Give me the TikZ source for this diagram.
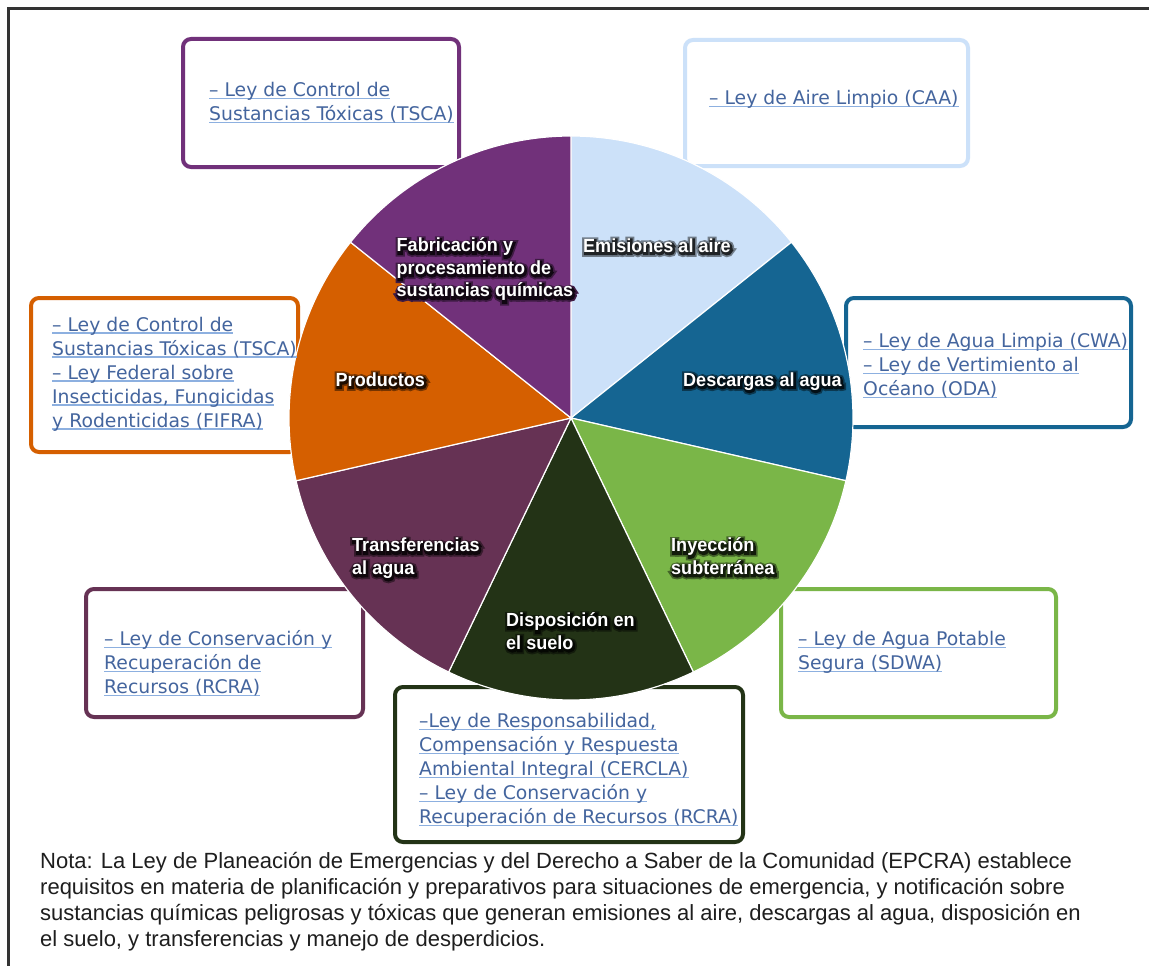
\documentclass[tikz,border=0pt]{standalone}
\usepackage{fontspec}
\setmainfont{DejaVu Sans}
\newfontfamily\notefont{Liberation Sans}
\newfontfamily\labfont{Liberation Sans}[FakeStretch=0.95]
\newfontfamily\glowA{Liberation Sans Bold}[FakeStretch=0.95, FakeBold=34]
\newfontfamily\glowB{Liberation Sans Bold}[FakeStretch=0.95, FakeBold=16]
\usetikzlibrary{calc}
\definecolor{cEm}{HTML}{CCE1F9}
\definecolor{cDe}{HTML}{156592}
\definecolor{cIn}{HTML}{7AB648}
\definecolor{cDi}{HTML}{233316}
\definecolor{cTr}{HTML}{663254}
\definecolor{cPr}{HTML}{D55F00}
\definecolor{cFa}{HTML}{71317A}
\definecolor{lnkc}{HTML}{44659E}
\definecolor{ulc}{HTML}{8DB0E0}
\definecolor{notec}{HTML}{1E1E1E}
\newcommand\lnk[1]{\setbox0=\hbox{#1}\rlap{\color{ulc}\rule[-2.6pt]{\wd0}{1.3pt}}\box0}
\tikzset{
  lawbox/.style={line width=4pt, rounded corners=8pt, fill=white},
  boxtext/.style={inner sep=0pt, anchor=north west, align=left, text=lnkc,
    font=\fontsize{18.8}{24}\selectfont},
  labtext/.style={inner sep=0pt, anchor=north west, align=left,
    font=\labfont\bfseries\fontsize{19}{22.5}\selectfont},
  glowouter/.style={labtext, font=\glowA\fontsize{19}{22.5}\selectfont},
  glowinner/.style={labtext, font=\glowB\fontsize{19}{22.5}\selectfont},
  notetext/.style={inner sep=0pt, anchor=north west, align=left, text=notec,
    font=\notefont\fontsize{22}{26}\selectfont},
  slice/.style={draw=white, line width=1.2pt}
}
\newcommand\glowlab[4]{%
  \node[glowouter, text=black!45!#4] (#1-o) at ($(#2)+(1,1.5)$) {#3};
  \node[glowinner, text=black!85!#4] (#1-i) at ($(#2)+(1,1.5)$) {#3};
  \node[labtext, text=white] (#1) at (#2) {#3};
}
\begin{document}
\begin{tikzpicture}[x=1pt, y=-1pt]
\useasboundingbox (0,0) rectangle (1149,966);
\fill[white] (0,0) rectangle (1149,966);
\draw[line width=2.5pt, black!80] (8.5,966) -- (8.5,8.5) -- (1149,8.5);

% law boxes
\draw[lawbox, draw=cFa] (183,39) rectangle (459,167);
\draw[lawbox, draw=cEm] (685,40) rectangle (968,166);
\draw[lawbox, draw=cPr] (31,298) rectangle (298,452);
\draw[lawbox, draw=cDe] (846,298) rectangle (1131,427);
\draw[lawbox, draw=cTr] (86,589) rectangle (363,717);
\draw[lawbox, draw=cIn] (781,589) rectangle (1056,717);
\draw[lawbox, draw=cDi] (395,687) rectangle (743,842);

% pie
\begin{scope}[shift={(571,418)}]
\foreach \a/\b/\c in {90/38.571/cEm, 38.571/-12.857/cDe, -12.857/-64.286/cIn,
    -64.286/-115.714/cDi, -115.714/-167.143/cTr, -167.143/-218.571/cPr, -218.571/-270/cFa}
  \filldraw[slice, fill=\c] (0pt,0pt) -- (\a:282pt) arc[start angle=\a, end angle=\b, radius=282pt] -- cycle;
\end{scope}

% box texts
\node[boxtext] (tFa) at (209,79.7) {\strut\lnk{– Ley de Control de}\\\lnk{Sustancias Tóxicas (TSCA)}};
\node[boxtext] (tEm) at (709,87.5) {\strut\lnk{– Ley de Aire Limpio (CAA)}};
\node[boxtext] (tPr) at (52,314) {\strut\lnk{– Ley de Control de}\\\lnk{Sustancias Tóxicas (TSCA)}\\\lnk{– Ley Federal sobre}\\\lnk{Insecticidas, Fungicidas}\\\lnk{y Rodenticidas (FIFRA)}};
\node[boxtext] (tDe) at (863,330.2) {\strut\lnk{– Ley de Agua Limpia (CWA)}\\\lnk{– Ley de Vertimiento al}\\\lnk{Océano (ODA)}};
\node[boxtext] (tTr) at (104,628.5) {\strut\lnk{– Ley de Conservación y}\\\lnk{Recuperación de}\\\lnk{Recursos (RCRA)}};
\node[boxtext] (tIn) at (798,628.5) {\strut\lnk{– Ley de Agua Potable}\\\lnk{Segura (SDWA)}};
\node[boxtext] (tDi) at (419,710.2) {\strut\lnk{–Ley de Responsabilidad,}\\\lnk{Compensación y Respuesta}\\\lnk{Ambiental Integral (CERCLA)}\\\lnk{– Ley de Conservación y}\\\lnk{Recuperación de Recursos (RCRA)}};

% pie labels
\glowlab{lFa}{396.5,236}{\strut Fabricación y\\procesamiento de\\sustancias químicas}{cFa}
\glowlab{lEm}{583,236.2}{\strut Emisiones al aire}{cEm}
\glowlab{lPr}{335.5,370.2}{\strut Productos}{cPr}
\glowlab{lDe}{683,370.2}{\strut Descargas al agua}{cDe}
\glowlab{lTr}{352,536}{\strut Transferencias\\al agua}{cTr}
\glowlab{lIn}{671,536}{\strut Inyección\\subterránea}{cIn}
\glowlab{lDi}{506,611}{\strut Disposición en\\el suelo}{cDi}

% note
\node[notetext] (note) at (40,849.8) {\strut Nota: La Ley de Planeación de Emergencias y del Derecho a Saber de la Comunidad (EPCRA) establece\\requisitos en materia de planificación y preparativos para situaciones de emergencia, y notificación sobre\\sustancias químicas peligrosas y tóxicas que generan emisiones al aire, descargas al agua, disposición en\\el suelo, y transferencias y manejo de desperdicios.};
\end{tikzpicture}
\end{document}
